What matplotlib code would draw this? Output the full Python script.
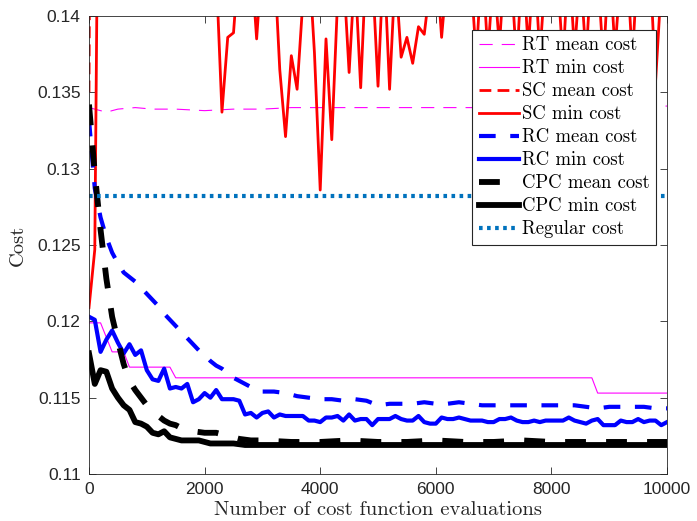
import matplotlib
matplotlib.use("Agg")
import matplotlib.pyplot as plt

# x positions (cost function evaluations) and costs
rt_mean_x = [0, 100, 300, 500, 800, 1100, 1500, 2000, 2500, 3000, 3500, 4000,
             5000, 6000, 7000, 8000, 9000, 10000]
rt_mean_y = [0.1340, 0.1339, 0.1337, 0.1339, 0.1340, 0.1339, 0.1339, 0.1338,
             0.1339, 0.1339, 0.1340, 0.1340, 0.1340, 0.1340, 0.1340, 0.1341,
             0.1341, 0.1341]

rt_min_x = [0, 200, 400, 600, 700, 1400, 1500, 8700, 8800, 10000]
rt_min_y = [0.1199, 0.1199, 0.1180, 0.1180, 0.1170, 0.1170, 0.1163, 0.1163,
            0.1153, 0.1153]

sc_mean_x = [0, 100, 200, 500, 1000, 2000, 5000, 10000]
sc_mean_y = [0.1350, 0.2200, 0.2000, 0.1900, 0.1800, 0.1700, 0.1650, 0.1600]

sc_min_x = list(range(0, 10001, 100))
sc_min_y = [
    0.1209, 0.1247, 0.1690, 0.1620, 0.1580, 0.1560, 0.1530, 0.1520, 0.1500, 0.1490,
    0.1480, 0.1470, 0.1470, 0.1460, 0.1460, 0.1450, 0.1450, 0.1450, 0.1440, 0.1440,
    0.1440, 0.1440, 0.1430, 0.1337, 0.1386, 0.1389, 0.1440, 0.1430, 0.1440, 0.1385,
    0.1440, 0.1430, 0.1440, 0.1365, 0.1321, 0.1374, 0.1352, 0.1410, 0.1440, 0.1376,
    0.1286, 0.1385, 0.1319, 0.1410, 0.1430, 0.1363, 0.1430, 0.1353, 0.1440, 0.1430,
    0.1354, 0.1440, 0.1352, 0.1430, 0.1373, 0.1386, 0.1369, 0.1393, 0.1388, 0.1420,
    0.1440, 0.1386, 0.1430, 0.1440, 0.1430, 0.1440, 0.1430, 0.1372, 0.1440, 0.1375,
    0.1430, 0.1380, 0.1440, 0.1430, 0.1368, 0.1440, 0.1378, 0.1440, 0.1374, 0.1430,
    0.1440, 0.1430, 0.1370, 0.1440, 0.1376, 0.1430, 0.1372, 0.1440, 0.1430, 0.1369,
    0.1440, 0.1377, 0.1430, 0.1440, 0.1371, 0.1440, 0.1430, 0.1440, 0.1356, 0.1420,
    0.1440]

rc_mean_x = [0, 100, 200, 300, 400, 500, 600, 700, 800, 900, 1000, 1100, 1200,
             1300, 1400, 1500, 1600, 1700, 1800, 1900, 2000, 2100, 2200, 2300,
             2400, 2500, 2600, 2700, 2800, 2900, 3000, 3200, 3400, 3600, 3800,
             4000, 4200, 4400, 4600, 4800, 5000, 5200, 5400, 5600, 5800, 6000,
             6200, 6400, 6600, 6800, 7000, 7200, 7400, 7600, 7800, 8000, 8200,
             8400, 8600, 8800, 9000, 9200, 9400, 9600, 9800, 10000]
rc_mean_y = [0.1332, 0.1287, 0.1268, 0.1255, 0.1245, 0.1238, 0.1232, 0.1229,
             0.1226, 0.1222, 0.1218, 0.1214, 0.1210, 0.1205, 0.1201, 0.1197,
             0.1193, 0.1189, 0.1185, 0.1181, 0.1178, 0.1174, 0.1171, 0.1169,
             0.1166, 0.1163, 0.1161, 0.1159, 0.1157, 0.1155, 0.1154, 0.1154,
             0.1153, 0.1151, 0.1150, 0.1149, 0.1149, 0.1148, 0.1149, 0.1148,
             0.1145, 0.1146, 0.1146, 0.1146, 0.1147, 0.1146, 0.1146, 0.1147,
             0.1146, 0.1145, 0.1145, 0.1145, 0.1145, 0.1145, 0.1145, 0.1145,
             0.1145, 0.1145, 0.1144, 0.1143, 0.1144, 0.1144, 0.1144, 0.1144,
             0.1143, 0.1143]

rc_min_x = list(range(0, 10001, 100))
rc_min_y = [
    0.1203, 0.1201, 0.1180, 0.1188, 0.1194, 0.1186, 0.1179, 0.1185, 0.1178, 0.1181,
    0.1168, 0.1162, 0.1161, 0.1169, 0.1156, 0.1157, 0.1156, 0.1159, 0.1147, 0.1149,
    0.1153, 0.1150, 0.1155, 0.1149, 0.1149, 0.1149, 0.1148, 0.1139, 0.1140, 0.1137,
    0.1140, 0.1141, 0.1137, 0.1139, 0.1138, 0.1138, 0.1138, 0.1138, 0.1135, 0.1135,
    0.1134, 0.1137, 0.1137, 0.1138, 0.1135, 0.1139, 0.1135, 0.1136, 0.1136, 0.1132,
    0.1136, 0.1136, 0.1136, 0.1138, 0.1136, 0.1135, 0.1135, 0.1138, 0.1134, 0.1133,
    0.1133, 0.1137, 0.1136, 0.1136, 0.1137, 0.1136, 0.1135, 0.1135, 0.1135, 0.1134,
    0.1134, 0.1136, 0.1136, 0.1137, 0.1135, 0.1134, 0.1134, 0.1135, 0.1134, 0.1135,
    0.1135, 0.1135, 0.1135, 0.1137, 0.1135, 0.1134, 0.1133, 0.1135, 0.1136, 0.1132,
    0.1132, 0.1132, 0.1135, 0.1134, 0.1134, 0.1136, 0.1134, 0.1135, 0.1135, 0.1132,
    0.1134]

cpc_mean_x = [0, 100, 200, 300, 400, 500, 600, 700, 800, 900, 1000, 1100, 1200,
              1300, 1400, 1500, 1600, 1800, 2000, 2200, 2400, 2600, 2800, 3000,
              3500, 4000, 4500, 5000, 5500, 6000, 6500, 7000, 7500, 8000, 8500,
              9000, 9500, 10000]
cpc_mean_y = [0.1342, 0.1297, 0.1260, 0.1228, 0.1203, 0.1187, 0.1172, 0.1161,
              0.1155, 0.1150, 0.1145, 0.1141, 0.1138, 0.1135, 0.1133, 0.1132,
              0.1130, 0.1128, 0.1127, 0.1127, 0.1125, 0.1123, 0.1122, 0.1122,
              0.1121, 0.1121, 0.1122, 0.1121, 0.1121, 0.1122, 0.1121, 0.1121,
              0.1122, 0.1121, 0.1121, 0.1121, 0.1121, 0.1121]

cpc_min_x = [0, 100, 200, 300, 400, 500, 600, 700, 800, 900, 1000, 1100, 1200,
             1300, 1400, 1500, 1600, 1700, 1800, 1900, 2000, 2100, 2200, 2300,
             2500, 2700, 3000, 4000, 5000, 6000, 7000, 8000, 9000, 10000]
cpc_min_y = [0.1179, 0.1159, 0.1168, 0.1167, 0.1156, 0.1150, 0.1145, 0.1142,
             0.1134, 0.1133, 0.1131, 0.1127, 0.1126, 0.1128, 0.1124, 0.1123,
             0.1122, 0.1122, 0.1122, 0.1122, 0.1121, 0.1120, 0.1120, 0.1120,
             0.1120, 0.1119, 0.1119, 0.1119, 0.1119, 0.1119, 0.1119, 0.1119,
             0.1119, 0.1119]

regular_cost = 0.1282

xticks = [0, 2000, 4000, 6000, 8000, 10000]
yticks = [0.11, 0.115, 0.12, 0.125, 0.13, 0.135, 0.14]
ytick_labels = ['0.11', '0.115', '0.12', '0.125', '0.13', '0.135', '0.14']

plt.rcParams['lines.scale_dashes'] = False
cm = 'cmr10'

fig = plt.figure(figsize=(6.97, 5.21), dpi=100)
ax = fig.add_axes([0.1277, 0.0902, 0.8293, 0.8791])

ax.plot(rt_mean_x, rt_mean_y, color='#FF00FF', lw=0.8, dashes=(9.5, 6.5),
        label='RT mean cost')
ax.plot(rt_min_x, rt_min_y, color='#FF00FF', lw=0.8, label='RT min cost')
ax.plot(sc_mean_x, sc_mean_y, color='#FF0000', lw=2.0, dashes=(8.5, 4.5),
        label='SC mean cost')
ax.plot(sc_min_x, sc_min_y, color='#FF0000', lw=2.0, label='SC min cost')
ax.plot(rc_mean_x, rc_mean_y, color='#0000FF', lw=3.0, dashes=(12, 10.5),
        label='RC mean cost')
ax.plot(rc_min_x, rc_min_y, color='#0000FF', lw=3.0, label='RC min cost')
ax.plot(cpc_mean_x, cpc_mean_y, color='black', lw=4.2, dashes=(15, 14.5),
        label='CPC mean cost')
ax.plot(cpc_min_x, cpc_min_y, color='black', lw=4.2, label='CPC min cost')
ax.plot([0, 10000], [regular_cost, regular_cost], color='#0072BD', lw=3.0,
        dashes=(2.6, 3.2), solid_capstyle='butt', dash_capstyle='butt',
        label='Regular cost')

ax.set_xlim(0, 10000)
ax.set_ylim(0.11, 0.14)
ax.set_xticks(xticks)
ax.set_yticks(yticks)
ax.set_yticklabels(ytick_labels)

# matlab look: box on, ticks in, gray axes
for s in ax.spines.values():
    s.set_color('#262626')
    s.set_linewidth(0.6)
ax.tick_params(direction='in', length=5, width=0.6, top=True, right=True,
               colors='#262626', labelsize=12.5, pad=6)
for lab in ax.get_xticklabels() + ax.get_yticklabels():
    lab.set_fontfamily('Liberation Sans')

ax.set_xlabel('Number of cost function evaluations', family=cm, fontsize=14.8,
              color='#262626', labelpad=3)
ax.set_ylabel('Cost', family=cm, fontsize=14.8, color='#262626', labelpad=7)

leg = ax.legend(loc='upper right', bbox_to_anchor=(0.981, 0.9694),
                prop={'family': cm, 'size': 13.5}, fancybox=False,
                framealpha=1, edgecolor='#262626', borderaxespad=0,
                handlelength=2.15, handletextpad=0.15, labelspacing=0.27,
                borderpad=0.35)
leg.get_frame().set_linewidth(0.8)

fig.savefig('out.png', dpi=100)
